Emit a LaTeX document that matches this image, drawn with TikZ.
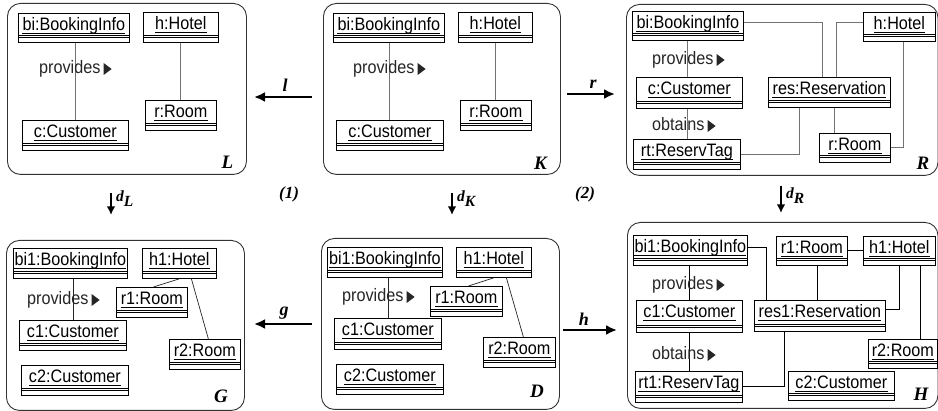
\documentclass[tikz,border=0pt]{standalone}
\usepackage{fontspec}
\setmainfont{Liberation Serif}
\newfontfamily\objfont[FakeStretch=0.9]{Liberation Sans}
\usetikzlibrary{arrows.meta,calc}
\tikzset{
  panel/.style={draw=black!80, line width=0.9pt, rounded corners=13pt, inner sep=0pt, anchor=north west},
  objbox/.style={draw=black, line width=0.8pt, inner sep=0pt, anchor=north west},
  objline/.style={draw=black, line width=0.6pt},
  objtext/.style={inner sep=0pt, anchor=base, font=\objfont\fontsize{18}{20}\selectfont},
  assoctext/.style={inner sep=0pt, anchor=base west, text=black!85, font=\objfont\fontsize{18}{20}\selectfont},
  conn/.style={draw=black!55, line width=1.1pt},
  conntwo/.style={draw=black!85, line width=0.7pt},
  connthree/.style={draw=black, line width=0.8pt},
  plabel/.style={inner sep=0pt, font=\bfseries\itshape\fontsize{19}{21}\selectfont},
  alabel/.style={inner sep=0pt, font=\bfseries\itshape\fontsize{18}{20}\selectfont},
  dlabel/.style={inner sep=0pt, anchor=base west, font=\bfseries\itshape\fontsize{15.5}{17}\selectfont},
  nlabel/.style={inner sep=0pt, font=\bfseries\itshape\fontsize{17}{19}\selectfont},
  morph/.style={line width=2.4pt, -{Latex[length=11pt,width=10pt]}},
  darr/.style={line width=1.8pt, -{Latex[length=8.5pt,width=8.5pt]}}
}
% name, x1, y1, x2, y2, text
\newcommand\umlobj[6]{%
  \node[objbox, minimum width={(#4)-(#2)}, minimum height={(#5)-(#3)}] (#1) at (#2,#3) {};
  \node[objtext] (#1-t) at ($(#1.north)+(0,18)$) {#6};
  \draw[line width=0.7pt] ($(#1-t.base west)+(0,2)$) -- ($(#1-t.base east)+(0,2)$);
  \draw[objline] ($(#1.south west)+(0,-7)$) -- ($(#1.south east)+(0,-7)$);
  \draw[objline] ($(#1.south west)+(0,-5)$) -- ($(#1.south east)+(0,-5)$);
}
% name, x, baseline y, text
\newcommand\assocl[4]{%
  \node[assoctext] (#1) at (#2,#3) {#4};
  \fill[black!85] ($(#1.base east)+(3,-11)$) -- ++(0,12) -- ++(8,-6) -- cycle;
}
\begin{document}
\begin{tikzpicture}[x=1pt,y=-1pt]
\useasboundingbox (0,0) rectangle (938,411);
\fill[white] (0,0) rectangle (938,411);

% ---------- panels ----------
\node[panel, minimum width=239, minimum height=171] (L) at (7,3) {};
\node[panel, minimum width=237, minimum height=171] (K) at (323,3) {};
\node[panel, minimum width=311.5, minimum height=171] (R) at (626,4) {};
\node[panel, minimum width=238, minimum height=170] (G) at (6,240) {};
\node[panel, minimum width=238, minimum height=171] (D) at (321,238) {};
\node[panel, minimum width=310.5, minimum height=186] (H) at (627,222) {};

\node[plabel] (Llab) at (227.5,162.5) {L};
\node[plabel] (Klab) at (540.5,163) {K};
\node[plabel] (Rlab) at (923,163) {R};
\node[plabel] (Glab) at (221,396.5) {G};
\node[plabel] (Dlab) at (537,391) {D};
\node[plabel] (Hlab) at (921,394) {H};

% ---------- L ----------
\umlobj{biL}{18}{13}{129}{42}{bi:BookingInfo}
\umlobj{hL}{143}{12}{218}{42}{h:Hotel}
\umlobj{rL}{145}{100}{216}{130}{r:Room}
\umlobj{cL}{22}{120}{128}{150}{c:Customer}
\draw[conn] (cL.north) -- (cL.north |- biL.south);
\draw[conn] (rL.north) -- (rL.north |- hL.south);
\assocl{pL}{39}{74}{provides}

% ---------- K ----------
\umlobj{biK}{333}{13}{444}{42}{bi:BookingInfo}
\umlobj{hK}{458}{12}{532}{42}{h:Hotel}
\umlobj{cK}{336}{120}{443}{150}{c:Customer}
\umlobj{rK}{460}{100}{531}{130}{r:Room}
\draw[conn] (cK.north) -- (cK.north |- biK.south);
\draw[conn] (rK.north) -- (rK.north |- hK.south);
\assocl{pK}{353}{74}{provides}

% ---------- R ----------
\umlobj{biR}{632}{11}{743}{40}{bi:BookingInfo}
\umlobj{hR}{863}{12}{935}{41}{h:Hotel}
\umlobj{cR}{636}{77}{742}{108}{c:Customer}
\umlobj{resR}{768}{77}{890}{107}{res:Reservation}
\umlobj{rtR}{633}{139}{740}{169}{rt:ReservTag}
\umlobj{rR}{819}{133}{890}{162}{r:Room}
\draw[conn] (biR.south) -- (biR.south |- cR.north);
\draw[conn] (cR.south -| biR.south) -- (rtR.north -| biR.south);
\draw[conn] ([yshift=3pt]biR.east) -| ([xshift=-7pt]resR.north);
\draw[conn] ([yshift=4pt]hR.west) -| ([xshift=7pt]resR.north);
\draw[conn] ([xshift=5pt]resR.south) -- ([xshift=5pt]resR.south |- rR.north);
\draw[conn] (rtR.east) -| ([xshift=-30pt]resR.south);
\draw[conn] (rR.east) -| ([xshift=4pt]hR.south);
\assocl{pR}{652}{65}{provides}
\assocl{oR}{652}{131}{obtains}

% ---------- G ----------
\umlobj{biG}{13}{248}{127}{278}{bi1:BookingInfo}
\umlobj{hG}{142}{248}{216}{278}{h1:Hotel}
\umlobj{r1G}{116}{287}{187}{317}{r1:Room}
\umlobj{c1G}{19}{320}{126}{350}{c1:Customer}
\umlobj{r2G}{169}{339}{240}{369}{r2:Room}
\umlobj{c2G}{21}{365}{128}{395}{c2:Customer}
\draw[conntwo] (c1G.north) -- (c1G.north |- biG.south);
\draw[conntwo] (hG.south) -- ([xshift=1.5pt]r1G.north);
\draw[conntwo] ([xshift=12pt]hG.south) -- ([xshift=3.5pt]r2G.north);
\assocl{pG}{27}{305}{provides}

% ---------- D ----------
\umlobj{biD}{327}{247}{442}{277}{bi1:BookingInfo}
\umlobj{hD}{456}{247}{531}{277}{h1:Hotel}
\umlobj{r1D}{430}{286}{502}{316}{r1:Room}
\umlobj{c1D}{334}{318}{441}{349}{c1:Customer}
\umlobj{r2D}{483}{337}{555}{367}{r2:Room}
\umlobj{c2D}{336}{364}{443}{394}{c2:Customer}
\draw[conntwo] (c1D.north) -- (c1D.north |- biD.south);
\draw[conntwo] (hD.south) -- ([xshift=2pt]r1D.north);
\draw[conntwo] ([xshift=12.5pt]hD.south) -- ([xshift=4pt]r2D.north);
\assocl{pD}{342}{302}{provides}

% ---------- H ----------
\umlobj{biH}{633}{235}{747}{265}{bi1:BookingInfo}
\umlobj{r1H}{776}{236}{847}{265}{r1:Room}
\umlobj{hH}{863}{236}{935}{265}{h1:Hotel}
\umlobj{c1H}{636}{300}{742}{332}{c1:Customer}
\umlobj{resH}{754}{300}{885}{331}{res1:Reservation}
\umlobj{rtH}{635}{371}{742}{402}{rt1:ReservTag}
\umlobj{r2H}{868}{339}{937}{368}{r2:Room}
\umlobj{c2H}{788}{371}{894}{400}{c2:Customer}
\draw[connthree] (c1H.north) -- (c1H.north |- biH.south);
\draw[connthree] (c1H.south) -- (c1H.south |- rtH.north);
\draw[connthree] ([yshift=3pt]biH.east) -| ([xshift=-53.5pt]resH.north);
\draw[connthree] (r1H.east) -- (r1H.east -| hH.west);
\draw[connthree] ([xshift=5.5pt]r1H.south) -- ([xshift=5.5pt]r1H.south |- resH.north);
\draw[connthree] ([yshift=6pt]resH.east) -| (hH.south);
\draw[connthree] ([xshift=21pt]hH.south) -- ([xshift=21pt]hH.south |- r2H.north);
\draw[connthree] (rtH.east) -| ([xshift=-35.5pt]resH.south);
\assocl{pH}{652}{290}{provides}
\assocl{oH}{652}{360}{obtains}

% ---------- morphism arrows ----------
\coordinate (lA) at (312,97);  \coordinate (lB) at (254,97);
\coordinate (rA) at (567,94);  \coordinate (rB) at (615,94);
\coordinate (gA) at (312,324); \coordinate (gB) at (254,324);
\coordinate (hA) at (563,330); \coordinate (hB) at (617,330);
\draw[morph] (lA) -- (lB);
\draw[morph] (rA) -- (rB);
\draw[morph] (gA) -- (gB);
\draw[morph] (hA) -- (hB);
\node[alabel] (llab) at (285,85) {l};
\node[alabel] (rlab) at (593,84) {r};
\node[alabel] (glab) at (284,313) {g};
\node[alabel] (hlab) at (584,319) {h};

\coordinate (dLA) at (111,193); \coordinate (dLB) at (111,215);
\coordinate (dKA) at (452,193); \coordinate (dKB) at (452,215);
\coordinate (dRA) at (781,186); \coordinate (dRB) at (781,213);
\draw[darr] (dLA) -- (dLB);
\draw[darr] (dKA) -- (dKB);
\draw[darr] (dRA) -- (dRB);
\node[dlabel] (dLlab) at (116,202) {d\raisebox{-4.5pt}{L}};
\node[dlabel] (dKlab) at (457,202) {d\raisebox{-4.5pt}{K}};
\node[dlabel] (dRlab) at (786,199) {d\raisebox{-5pt}{R}};

\node[nlabel] (one) at (289,194) {(1)};
\node[nlabel] (two) at (585,194) {(2)};
\end{tikzpicture}
\end{document}
